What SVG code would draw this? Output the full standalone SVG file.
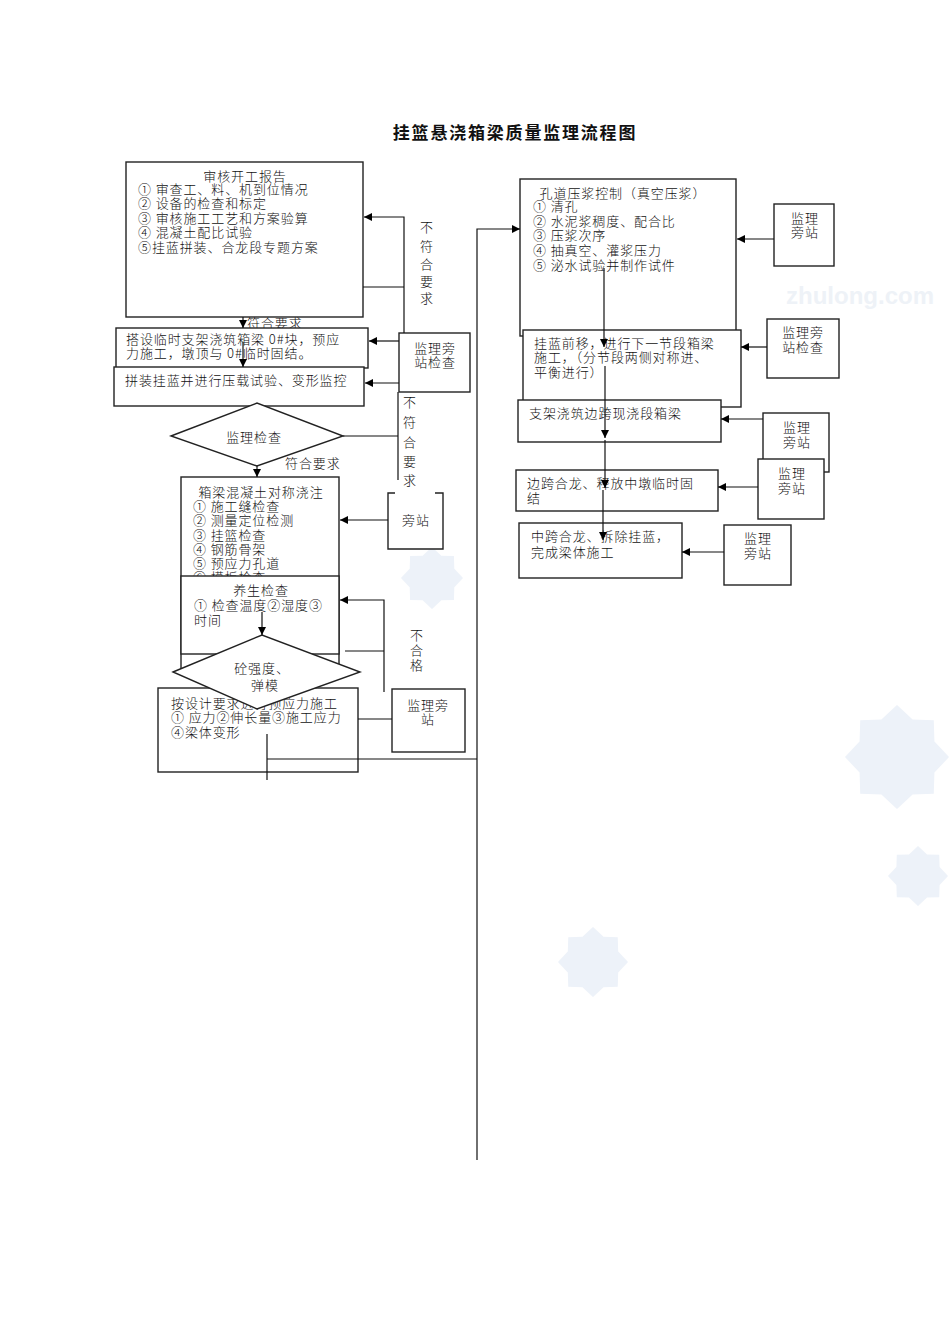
<svg xmlns="http://www.w3.org/2000/svg" width="950" height="1344" viewBox="0 0 950 1344">
<style>
.bx{fill:#fff;stroke:#222;stroke-width:1.4}
.t{font-family:"Noto Sans CJK SC","Liberation Serif",sans-serif;font-size:13px;letter-spacing:0.9px;font-weight:300;fill:#111}
.c{text-anchor:middle}
.ln{fill:none;stroke:#111;stroke-width:1.2}
.ar{fill:none;stroke:#111;stroke-width:1.2;marker-end:url(#ah)}
.wm{fill:#edf2f9}
</style>
<defs>
<marker id="ah" viewBox="0 0 10 10" refX="10" refY="5" markerWidth="9" markerHeight="8" markerUnits="userSpaceOnUse" orient="auto"><path d="M0,0 L10,5 L0,10 z" fill="#000"/></marker>
<polygon id="flake" points="10,0 7.2,3 7.07,7.07 3,7.2 0,10 -3,7.2 -7.07,7.07 -7.2,3 -10,0 -7.2,-3 -7.07,-7.07 -3,-7.2 0,-10 3,-7.2 7.07,-7.07 7.2,-3"/>
</defs>
<rect width="950" height="1344" fill="#fff"/>
<g id="watermark">
<text x="860" y="304" text-anchor="middle" font-family="Liberation Sans, sans-serif" font-weight="bold" font-size="24" fill="#eef2f7">zhulong.com</text>
<use href="#flake" class="wm" transform="translate(432,578) scale(3.1)"/>
<use href="#flake" class="wm" transform="translate(897,757) scale(5.2)"/>
<use href="#flake" class="wm" transform="translate(918,876) scale(3)"/>
<use href="#flake" class="wm" transform="translate(593,962) scale(3.5)"/>
</g>
<text x="515" y="139" text-anchor="middle" font-family="'Noto Sans CJK SC',sans-serif" font-weight="bold" font-size="17" letter-spacing="1.8" fill="#111">挂篮悬浇箱梁质量监理流程图</text>
<g id="hidden-label"><text class="t" x="247" y="328" font-size="16">符合要求</text></g>
<g id="n-review">
<rect class="bx" x="126" y="162" width="237" height="155"/>
<text class="t c" x="245" y="181">审核开工报告</text>
<text class="t" x="138" y="194">① 审查工、料、机到位情况</text>
<text class="t" x="138" y="208">② 设备的检查和标定</text>
<text class="t" x="138" y="223">③ 审核施工工艺和方案验算</text>
<text class="t" x="138" y="237">④ 混凝土配比试验</text>
<text class="t" x="138" y="252">⑤挂蓝拼装、合龙段专题方案</text>
</g>
<g id="n-support">
<rect class="bx" x="116" y="328" width="252" height="40"/>
<text class="t" x="126" y="344">搭设临时支架浇筑箱梁 0#块，预应</text>
<text class="t" x="126" y="358">力施工，墩顶与 0#临时固结。</text>
</g>
<g id="n-assemble">
<rect class="bx" x="114" y="367" width="250" height="39"/>
<text class="t" x="125" y="385">拼装挂蓝并进行压载试验、变形监控</text>
</g>
<g id="n-sup1">
<rect class="bx" x="399" y="333" width="71" height="59"/>
<text class="t c" x="435" y="353">监理旁</text>
<text class="t c" x="435" y="367">站检查</text>
</g>
<g id="n-check1">
<polygon class="bx" points="171,436 257,403 343,436 257,466"/>
<text class="t c" x="254" y="442">监理检查</text>
</g>
<g id="n-pour">
<rect class="bx" x="181" y="477" width="158" height="193"/>
<text class="t c" x="261" y="497">箱梁混凝土对称浇注</text>
<text class="t" x="193" y="511">① 施工缝检查</text>
<text class="t" x="193" y="525">② 测量定位检测</text>
<text class="t" x="193" y="540">③ 挂篮检查</text>
<text class="t" x="193" y="554">④ 钢筋骨架</text>
<text class="t" x="193" y="568">⑤ 预应力孔道</text>
<text class="t" x="193" y="582">⑥ 模板检查</text>
</g>
<g id="n-curing">
<rect class="bx" x="181" y="576" width="158" height="78"/>
<text class="t c" x="261" y="595">养生检查</text>
<text class="t" x="194" y="610">① 检查温度②湿度③</text>
<text class="t" x="194" y="625">时间</text>
</g>
<g id="n-tension">
<rect class="bx" x="158" y="688" width="200" height="84"/>
<text class="t" x="171" y="708">按设计要求进行预应力施工</text>
<text class="t" x="171" y="722">① 应力②伸长量③施工应力</text>
<text class="t" x="171" y="737">④梁体变形</text>
</g>
<g id="n-check2">
<polygon class="bx" points="173,672 262,635 360,672 257,709"/>
<text class="t c" x="262" y="673">砼强度、</text>
<text class="t c" x="265" y="690">弹模</text>
</g>
<g id="n-side">
<path class="bx" d="M395,493 H388 V549 H443 V493 H435" fill="#fff"/>
<text class="t c" x="416" y="525">旁站</text>
</g>
<g id="n-sup2">
<rect class="bx" x="392" y="689" width="73" height="63"/>
<text class="t c" x="428" y="710">监理旁</text>
<text class="t c" x="428" y="724">站</text>
</g>
<g id="n-grout">
<rect class="bx" x="520" y="179" width="216" height="157"/>
<text class="t c" x="623" y="198">孔道压浆控制（真空压浆）</text>
<text class="t" x="533" y="211">① 清孔</text>
<text class="t" x="533" y="226">② 水泥浆稠度、配合比</text>
<text class="t" x="533" y="240">③ 压浆次序</text>
<text class="t" x="533" y="255">④ 抽真空、灌浆压力</text>
<text class="t" x="533" y="270">⑤ 泌水试验并制作试件</text>
</g>
<g id="n-move">
<rect class="bx" x="523" y="330" width="218" height="77"/>
<text class="t" x="534" y="348">挂蓝前移，进行下一节段箱梁</text>
<text class="t" x="534" y="362">施工，（分节段两侧对称进、</text>
<text class="t" x="534" y="377">平衡进行）</text>
</g>
<g id="n-sidespan">
<rect class="bx" x="518" y="400" width="203" height="42"/>
<text class="t" x="529" y="418">支架浇筑边跨现浇段箱梁</text>
</g>
<g id="n-closure1">
<rect class="bx" x="516" y="470" width="202" height="41"/>
<text class="t" x="527" y="488">边跨合龙、释放中墩临时固</text>
<text class="t" x="527" y="503">结</text>
</g>
<g id="n-closure2">
<rect class="bx" x="519" y="523" width="163" height="55"/>
<text class="t" x="531" y="541">中跨合龙、拆除挂蓝，</text>
<text class="t" x="531" y="557">完成梁体施工</text>
</g>
<g id="n-r1">
<rect class="bx" x="774" y="204" width="60" height="62"/>
<text class="t c" x="805" y="223">监理</text>
<text class="t c" x="805" y="237">旁站</text>
</g>
<g id="n-r2">
<rect class="bx" x="767" y="319" width="72" height="59"/>
<text class="t c" x="803" y="337">监理旁</text>
<text class="t c" x="803" y="352">站检查</text>
</g>
<g id="n-r3">
<rect class="bx" x="763" y="413" width="66" height="59"/>
<text class="t c" x="797" y="432">监理</text>
<text class="t c" x="797" y="447">旁站</text>
</g>
<g id="n-r4">
<rect class="bx" x="758" y="459" width="66" height="60"/>
<text class="t c" x="792" y="478">监理</text>
<text class="t c" x="792" y="493">旁站</text>
</g>
<g id="n-r5">
<rect class="bx" x="724" y="525" width="67" height="60"/>
<text class="t c" x="758" y="543">监理</text>
<text class="t c" x="758" y="558">旁站</text>
</g>
<g id="connectors">
<path class="ar" d="M404,333 V217 H364"/>
<path class="ln" d="M363,287 H404"/>
<path class="ar" d="M243,317 V328"/>
<path class="ar" d="M243,342 V367"/>
<path class="ar" d="M399,341 H369"/>
<path class="ar" d="M399,383 H365"/>
<path class="ln" d="M343,436 H398 M398,392 V480"/>
<path class="ar" d="M257,466 V477"/>
<path class="ar" d="M388,520 H340"/>
<path class="ar" d="M262,612 V635"/>
<path class="ln" d="M345,651 H384"/>
<path class="ar" d="M384,692 V600 H340"/>
<path class="ln" d="M392,719 H358"/>
<path class="ln" d="M267,734 V780 M267,759 H477"/>
<path class="ar" d="M477,1160 V229 H520"/>
<path class="ar" d="M604,268 V347"/>
<path class="ar" d="M605,366 V438"/>
<path class="ar" d="M605,440 V488"/>
<path class="ar" d="M603,490 V540"/>
<path class="ar" d="M774,239 H737"/>
<path class="ar" d="M767,347 H741"/>
<path class="ar" d="M763,419 H721"/>
<path class="ar" d="M758,487 H718"/>
<path class="ar" d="M724,552 H682"/>
</g>
<g id="labels">
<g class="t c">
<text x="427" y="232">不</text><text x="427" y="251">符</text><text x="427" y="269">合</text><text x="427" y="286">要</text><text x="427" y="303">求</text>
<text x="410" y="407">不</text><text x="410" y="427">符</text><text x="410" y="447">合</text><text x="410" y="466">要</text><text x="410" y="485">求</text>
<text x="417" y="640">不</text><text x="417" y="655">合</text><text x="417" y="670">格</text>
</g>
<text class="t" x="285" y="468">符合要求</text>
</g>
</svg>
